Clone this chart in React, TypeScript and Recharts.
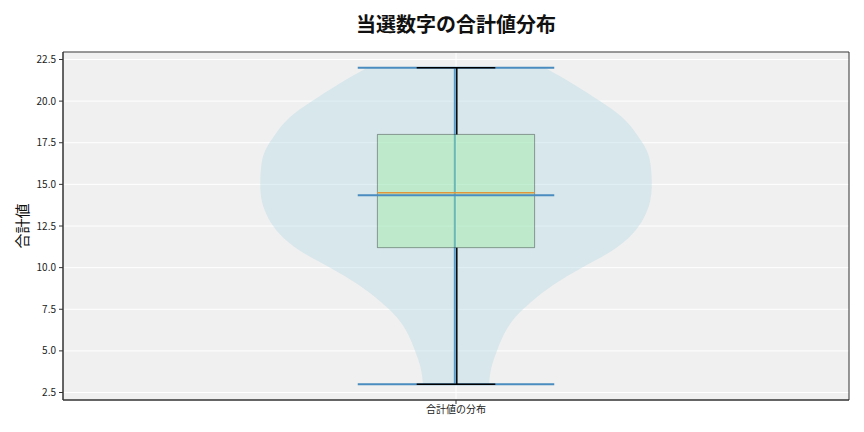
import React from 'react';
import {
  ComposedChart,
  Area,
  XAxis,
  YAxis,
  CartesianGrid,
  ReferenceLine,
  ReferenceArea,
} from 'recharts';

// ---- data ----
const categories = ['合計値の分布'];
const categoryPositions = [1];

const violinValues = [3, 4, 5, 6, 7, 8, 9, 10, 11, 12, 13, 14, 15, 16, 17, 18, 19, 20, 21, 22];
const violinHalfWidths = [
  0.042, 0.045, 0.052, 0.061, 0.075, 0.097, 0.125, 0.16, 0.198, 0.224,
  0.239, 0.247, 0.249, 0.248, 0.243, 0.23, 0.212, 0.183, 0.15, 0.113,
];

const boxMin = 3;
const boxQ1 = 11.2;
const boxMedian = 14.5;
const boxQ3 = 18;
const boxMax = 22;
const meanValue = 14.35;

const yTicks = [2.5, 5, 7.5, 10, 12.5, 15, 17.5, 20, 22.5];
const yDomain = [2.05, 22.95];
const xDomain = [0.5, 1.5];

const FONT = '"Noto Sans CJK JP", "Noto Sans", sans-serif';

const c = categoryPositions[0];
const violinData = violinValues.map((v, i) => ({
  v,
  range: [c - violinHalfWidths[i], c + violinHalfWidths[i]],
}));

const BOX_HALF = 0.1;
const CAP_HALF = 0.05;
const VLINE_HALF = 0.125;

export default function App() {
  return (
    <div style={{ position: 'absolute', left: 0, top: 0, width: 864, height: 432, background: '#fff', fontFamily: FONT }}>
      <div
        style={{
          position: 'absolute',
          left: 63,
          width: 786,
          top: 9,
          textAlign: 'center',
          fontSize: 20,
          fontWeight: 700,
          color: '#111',
          fontFamily: FONT,
          lineHeight: '30px',
        }}
      >
        当選数字の合計値分布
      </div>
      <div
        style={{
          position: 'absolute',
          left: 21,
          top: 226,
          transform: 'translate(-50%, -50%) rotate(-90deg)',
          fontSize: 15,
          color: '#111',
          fontFamily: FONT,
          whiteSpace: 'nowrap',
        }}
      >
        合計値
      </div>
      <div style={{ position: 'absolute', left: 0, top: 0 }}>
        <ComposedChart
          width={864}
          height={432}
          layout="vertical"
          data={violinData}
          margin={{ top: 52, right: 15, bottom: 0, left: 0 }}
          style={{ fontFamily: FONT }}
        >
          <CartesianGrid stroke="#ffffff" strokeWidth={1} fill="#f0f0f0" verticalValues={categoryPositions} />
          <XAxis
            type="number"
            domain={xDomain}
            ticks={categoryPositions}
            tickFormatter={(v: number) => categories[categoryPositions.indexOf(v)] ?? ''}
            allowDataOverflow
            height={32}
            tickSize={4}
            tickMargin={2}
            stroke="#333"
            tick={{ fontSize: 10, fill: '#222', fontFamily: FONT }}
          />
          <YAxis
            type="number"
            dataKey="v"
            domain={yDomain}
            reversed
            allowDataOverflow
            ticks={yTicks}
            tickFormatter={(v: number) => v.toFixed(1)}
            width={63}
            tickSize={4}
            tickMargin={3}
            stroke="#333"
            tick={{ fontSize: 10, fill: '#222', fontFamily: FONT }}
          />
          <Area
            dataKey="range"
            type="natural"
            fill="#add8e6"
            fillOpacity={0.38}
            stroke="none"
            isAnimationActive={false}
            dot={false}
            activeDot={false}
            zIndex={100}
          />
          {/* violin central bar */}
          <ReferenceLine
            segment={[{ x: c - 0.0015, y: boxMin }, { x: c - 0.0015, y: boxMax }]}
            stroke="#5a9cc8"
            strokeWidth={2}
            zIndex={150}
          />
          {/* box */}
          <ReferenceArea
            x1={c - BOX_HALF}
            x2={c + BOX_HALF}
            y1={boxQ1}
            y2={boxQ3}
            fill="#90ee90"
            fillOpacity={0.35}
            stroke="#000"
            strokeOpacity={0.35}
            strokeWidth={1}
            zIndex={200}
          />
          {/* violin extrema & mean lines */}
          <ReferenceLine
            segment={[{ x: c - VLINE_HALF, y: boxMax }, { x: c + VLINE_HALF, y: boxMax }]}
            stroke="#4a8cbf"
            strokeWidth={2}
            zIndex={300}
          />
          <ReferenceLine
            segment={[{ x: c - VLINE_HALF, y: boxMin }, { x: c + VLINE_HALF, y: boxMin }]}
            stroke="#4a8cbf"
            strokeWidth={2}
            zIndex={300}
          />
          <ReferenceLine
            segment={[{ x: c - VLINE_HALF, y: meanValue }, { x: c + VLINE_HALF, y: meanValue }]}
            stroke="#4a8cbf"
            strokeWidth={2}
            zIndex={300}
          />
          {/* whiskers and caps */}
          <ReferenceLine
            segment={[{ x: c + 0.001, y: boxMin }, { x: c + 0.001, y: boxQ1 }]}
            stroke="#000"
            strokeWidth={1.5}
            zIndex={400}
          />
          <ReferenceLine
            segment={[{ x: c + 0.001, y: boxQ3 }, { x: c + 0.001, y: boxMax }]}
            stroke="#000"
            strokeWidth={1.5}
            zIndex={400}
          />
          <ReferenceLine
            segment={[{ x: c - CAP_HALF, y: boxMin }, { x: c + CAP_HALF, y: boxMin }]}
            stroke="#000"
            strokeWidth={1.5}
            zIndex={400}
          />
          <ReferenceLine
            segment={[{ x: c - CAP_HALF, y: boxMax }, { x: c + CAP_HALF, y: boxMax }]}
            stroke="#000"
            strokeWidth={1.5}
            zIndex={400}
          />
          {/* median */}
          <ReferenceLine
            segment={[{ x: c - BOX_HALF, y: boxMedian }, { x: c + BOX_HALF, y: boxMedian }]}
            stroke="#e0963a"
            strokeWidth={1.5}
            zIndex={500}
          />
          {/* frame */}
          <ReferenceArea
            x1={xDomain[0]}
            x2={xDomain[1]}
            y1={yDomain[0]}
            y2={yDomain[1]}
            fill="none"
            stroke="#333"
            strokeWidth={1}
            zIndex={600}
          />
        </ComposedChart>
      </div>
    </div>
  );
}
